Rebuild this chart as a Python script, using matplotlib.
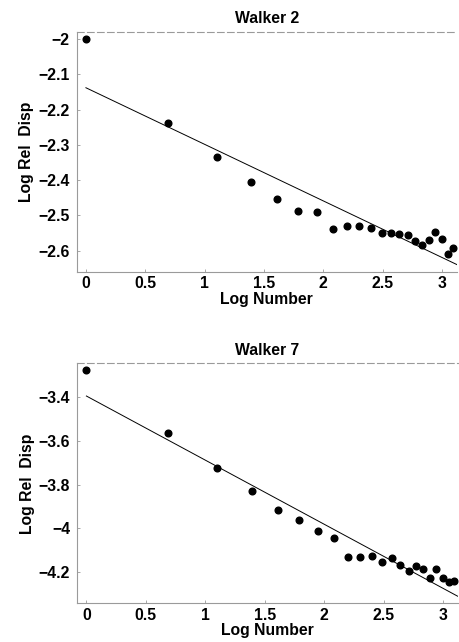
import matplotlib
matplotlib.use("Agg")
import matplotlib.pyplot as plt

plt.rcParams['font.family'] = ['Liberation Sans', 'DejaVu Sans']
plt.rcParams['font.weight'] = 'bold'

# log of walker count
log_number = [0.0, 0.69, 1.10, 1.39, 1.61, 1.79, 1.95, 2.08, 2.20, 2.30, 2.40,
              2.49, 2.57, 2.64, 2.71, 2.77, 2.83, 2.89, 2.94, 3.00, 3.05, 3.09]

walker2 = [-2.000, -2.239, -2.334, -2.406, -2.454, -2.487, -2.492, -2.539,
           -2.529, -2.530, -2.536, -2.550, -2.551, -2.553, -2.556, -2.574,
           -2.584, -2.570, -2.546, -2.568, -2.610, -2.592]

walker7 = [-3.275, -3.562, -3.723, -3.828, -3.915, -3.964, -4.015, -4.045,
           -4.133, -4.134, -4.130, -4.154, -4.136, -4.169, -4.195, -4.172,
           -4.189, -4.228, -4.189, -4.228, -4.249, -4.243]

# fitted lines: (intercept, slope)
fit2 = (-2.138, -0.1606)
fit7 = (-3.394, -0.294)

titles = ["Walker 2", "Walker 7"]
yticks2 = [-2, -2.1, -2.2, -2.3, -2.4, -2.5, -2.6]
yticks7 = [-3.4, -3.6, -3.8, -4, -4.2]
xticks = [0, 0.5, 1, 1.5, 2, 2.5, 3]

FS = 11.3

fig = plt.figure(figsize=(4.59, 6.42), dpi=100)
ax1 = fig.add_axes([0.167, 0.5768, 0.828, 0.3738])
ax2 = fig.add_axes([0.168, 0.0602, 0.829, 0.3739])

panels = [
    (ax1, walker2, fit2, yticks2, (-2.66, -1.979)),
    (ax2, walker7, fit7, yticks7, (-4.345, -3.244)),
]

xmin, xmax = -0.078, 3.123

def fmt(v):
    s = f"{v:g}"
    return s.replace("-", "\u2212")

for (ax, ys, fit, yt, ylim), title in zip(panels, titles):
    ax.plot(log_number, ys, 'o', color='black', ms=4.8, mec='black')
    b, m = fit
    ax.plot([0, xmax], [b, b + m * xmax], color='black', lw=0.7)
    ax.set_xlim(xmin, xmax)
    ax.set_ylim(*ylim)
    ax.set_xticks(xticks)
    ax.set_xticklabels([fmt(v) for v in xticks])
    ax.set_yticks(yt)
    ax.set_yticklabels([fmt(v) for v in yt])
    ax.tick_params(direction='in', length=2.5, width=0.6, color='#999999',
                   labelsize=FS, pad=5)
    ax.tick_params(axis='x', pad=3)
    for lab in ax.get_xticklabels() + ax.get_yticklabels():
        lab.set_fontweight('bold')
    for side in ['left', 'bottom', 'top', 'right']:
        ax.spines[side].set_color('#9a9a9a')
        ax.spines[side].set_linewidth(0.8)
    ax.spines['right'].set_visible(False)
    ax.spines['top'].set_linestyle((0, (6, 3)))
    ax.set_title(title, fontsize=FS, fontweight='bold', pad=6)
    ax.set_xlabel("Log Number", fontsize=FS, fontweight='bold', labelpad=0.5)
    ax.set_ylabel("Log Rel  Disp", fontsize=FS, fontweight='bold', labelpad=3)

fig.savefig("out.png", dpi=100)
